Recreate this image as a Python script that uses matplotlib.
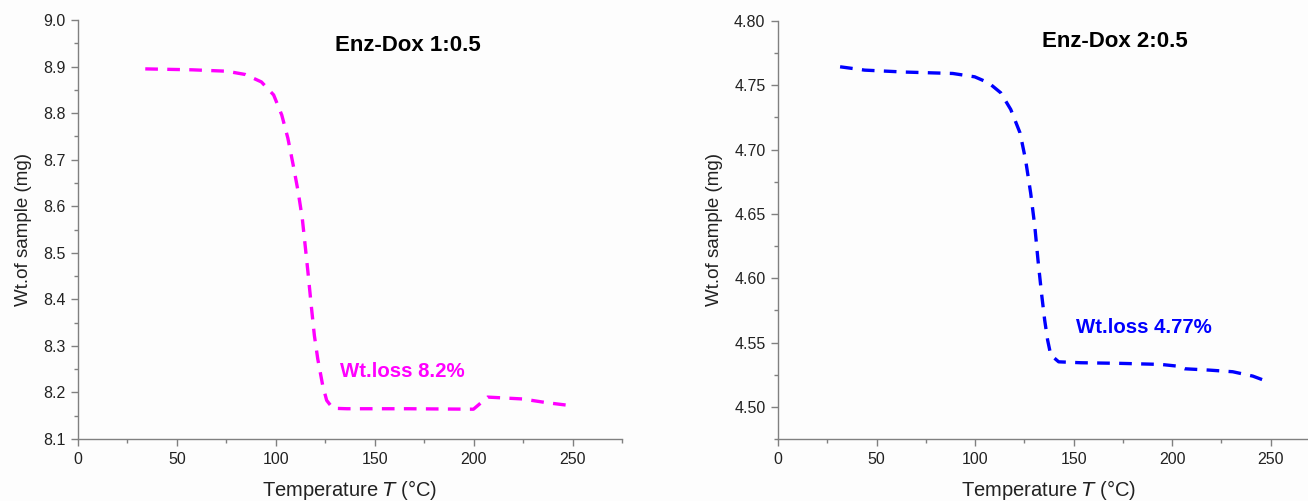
import matplotlib
matplotlib.use("Agg")
import matplotlib.pyplot as plt
from matplotlib.ticker import MultipleLocator, FormatStrFormatter

plt.rcParams['font.family'] = ['Liberation Sans', 'DejaVu Sans']

# Sample 1 (Enz-Dox 1:0.5)
t1 = [34.0, 57.7, 75.2, 84.5, 92.7, 98.9, 103.0, 106.1, 108.8, 111.3, 113.4, 115.0,
      116.4, 117.9, 119.5, 121.2, 123.7, 125.7, 128.8, 136.0, 166.9, 199.9, 207.1,
      224.7, 237.0, 250.4]
w1 = [8.895, 8.893, 8.890, 8.883, 8.867, 8.839, 8.796, 8.746, 8.688, 8.631, 8.573, 8.509,
      8.452, 8.387, 8.322, 8.272, 8.215, 8.183, 8.166, 8.165, 8.165, 8.164, 8.190,
      8.186, 8.178, 8.171]

# Sample 2 (Enz-Dox 2:0.5)
t2 = [31.5, 44.0, 64.3, 88.7, 99.8, 106.9, 113.0, 118.1, 122.8, 125.6, 128.2, 130.3,
      131.9, 133.7, 135.3, 136.8, 138.4, 142.4, 153.6, 173.9, 194.2, 202.3, 206.4,
      218.5, 230.7, 240.9, 250.0]
w2 = [4.7644, 4.7618, 4.7603, 4.7592, 4.7566, 4.7519, 4.7442, 4.7312, 4.7130, 4.6922,
      4.6662, 4.6403, 4.6143, 4.5883, 4.5675, 4.5519, 4.5403, 4.5350, 4.5343, 4.5338,
      4.5330, 4.5317, 4.5296, 4.5286, 4.5273, 4.5239, 4.5187]

titles = ["Enz-Dox 1:0.5", "Enz-Dox 2:0.5"]
notes = ["Wt.loss 8.2%", "Wt.loss 4.77%"]

W, H = 1308, 501
fig = plt.figure(figsize=(W / 100, H / 100), dpi=100, facecolor='#fdfdfd')

ax1 = fig.add_axes([78 / W, 1 - 439 / H, 544 / W, 419 / H])
ax2 = fig.add_axes([778 / W, 1 - 439 / H, 542 / W, 418 / H])

gray = '#808080'
for ax in (ax1, ax2):
    ax.set_facecolor('#fdfdfd')
    for s in ('top', 'right'):
        ax.spines[s].set_visible(False)
    for s in ('left', 'bottom'):
        ax.spines[s].set_color(gray)
        ax.spines[s].set_linewidth(1.0)
    ax.set_xlim(0, 275)
    ax.xaxis.set_major_locator(MultipleLocator(50))
    ax.xaxis.set_minor_locator(MultipleLocator(25))
    ax.tick_params(which='major', direction='out', length=5, width=1, color=gray,
                   labelsize=11.5, labelcolor='#222222', pad=4)
    ax.tick_params(which='minor', direction='out', length=3, width=1, color=gray)
    ax.set_xlabel(r'Temperature $\it{T}$ (°C)', fontsize=14.5, color='#222222', labelpad=8)
    ax.set_ylabel('Wt.of sample (mg)', fontsize=13.5, color='#222222', labelpad=8)

ax1.plot(t1, w1, color='#ff00ff', lw=2.4, dashes=(3.8, 2.8))
ax1.set_ylim(8.1, 9.0)
ax1.yaxis.set_major_locator(MultipleLocator(0.1))
ax1.yaxis.set_minor_locator(MultipleLocator(0.05))
ax1.yaxis.set_major_formatter(FormatStrFormatter('%.1f'))
ax1.text(130, 8.946, titles[0], fontsize=16, fontweight='bold', va='center', ha='left')
ax1.text(132.5, 8.244, notes[0], fontsize=14.7, fontweight='bold', color='#ff00ff',
         va='center', ha='left')

ax2.plot(t2, w2, color='#0000ff', lw=2.4, dashes=(3.8, 2.8))
ax2.set_ylim(4.475, 4.80)
ax2.yaxis.set_major_locator(MultipleLocator(0.05))
ax2.yaxis.set_minor_locator(MultipleLocator(0.025))
ax2.yaxis.set_major_formatter(FormatStrFormatter('%.2f'))
ax2.text(134, 4.784, titles[1], fontsize=16, fontweight='bold', va='center', ha='left')
ax2.text(151.3, 4.562, notes[1], fontsize=14.7, fontweight='bold', color='#0000ff',
         va='center', ha='left')

fig.savefig('out.png', dpi=100, facecolor=fig.get_facecolor())
